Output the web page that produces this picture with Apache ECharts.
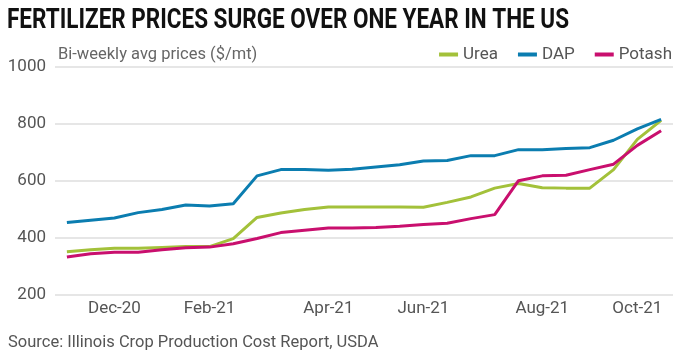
<!DOCTYPE html>
<html>
<head>
<meta charset="utf-8">
<script src="https://cdn.jsdelivr.net/npm/echarts@6/dist/echarts.min.js"></script>
<style>
html,body{margin:0;padding:0;background:#fff;}
#chart{width:680px;height:356px;}
</style>
</head>
<body>
<div id="chart"></div>
<script>
// Bi-weekly periods (Nov 2020 - Oct 2021)
const periods = ['2020-11-12','2020-11-26','2020-12-10','2020-12-24','2021-01-07','2021-01-21',
  '2021-02-04','2021-02-18','2021-03-04','2021-03-18','2021-04-01','2021-04-15','2021-04-29',
  '2021-05-13','2021-05-27','2021-06-10','2021-06-24','2021-07-08','2021-07-22','2021-08-05',
  '2021-08-19','2021-09-02','2021-09-16','2021-09-30','2021-10-14','2021-10-28'];
const tickIndex = [2, 6, 11, 15, 20, 24];
const tickLabels = ['Dec-20', 'Feb-21', 'Apr-21', 'Jun-21', 'Aug-21', 'Oct-21'];

const urea   = [352, 359, 364, 364, 367, 370, 370, 398, 472, 488, 500, 509, 509, 509, 509, 508,
                525, 544, 575, 591, 576, 575, 575, 640, 746, 813];
const dap    = [454, 462, 470, 489, 500, 516, 512, 520, 618, 640, 640, 638, 641, 649, 657, 670,
                672, 689, 689, 710, 710, 714, 717, 743, 783, 816];
const potash = [333, 345, 350, 350, 359, 366, 368, 380, 398, 419, 427, 435, 435, 437, 441, 447,
                452, 468, 482, 601, 618, 620, 640, 659, 725, 776];

const yTicks = {min: 200, max: 1000, interval: 200};

const titleText = 'FERTILIZER PRICES SURGE OVER ONE YEAR IN THE US';
const colors = {Urea: '#a3c13a', DAP: '#0b7db0', Potash: '#c90f6e'};
const FONT = 'Roboto, "Noto Sans", sans-serif';

// condense the title horizontally to match the narrow headline face
const TITLE_FONT = 'bold 28px Roboto, "Noto Sans", sans-serif';
const ctx = document.createElement('canvas').getContext('2d');
ctx.font = TITLE_FONT;
const titleW = ctx.measureText(titleText).width;
const titleScale = 562 / titleW;

const chart = echarts.init(document.getElementById('chart'), null, {renderer: 'canvas'});
function mk(name, data) {
  return {
    name, type: 'line', data, symbol: 'none', smooth: false,
    lineStyle: {width: 3, color: colors[name]}, itemStyle: {color: colors[name]}
  };
}
chart.setOption({
  animation: false,
  backgroundColor: '#fff',
  title: [
    {text: 'Bi-weekly avg prices ($/mt)', left: 58, top: 46, padding: 0,
     textStyle: {fontFamily: FONT, fontWeight: 'normal', fontSize: 16.5, color: '#666'}},
    {text: 'Source: Illinois Crop Production Cost Report, USDA', left: 8, top: 334, padding: 0,
     textStyle: {fontFamily: FONT, fontWeight: 'normal', fontSize: 16.5, color: '#555'}}
  ],
  graphic: [{
    type: 'text', left: 7, top: 7, scaleX: titleScale, originX: 0,
    style: {text: titleText, font: TITLE_FONT, fill: '#111'}
  }],
  legend: {
    right: 8, top: 46, padding: 0, icon: 'rect', itemWidth: 19, itemHeight: 4, itemGap: 20,
    data: ['Urea', 'DAP', 'Potash'],
    textStyle: {fontFamily: FONT, fontSize: 17, color: '#555'}
  },
  grid: {left: 55, right: 7, top: 67, bottom: 61, containLabel: false},
  xAxis: {
    type: 'category', data: periods, boundaryGap: true,
    axisLine: {show: false}, axisTick: {show: false},
    axisLabel: {
      interval: (i) => tickIndex.indexOf(i) >= 0,
      formatter: (v, i) => { const k = tickIndex.indexOf(i); return k >= 0 ? tickLabels[k] : ''; },
      fontFamily: FONT, fontSize: 17, color: '#555', margin: 5
    }
  },
  yAxis: {
    type: 'value', min: yTicks.min, max: yTicks.max, interval: yTicks.interval,
    axisLine: {show: false}, axisTick: {show: false},
    axisLabel: {fontFamily: FONT, fontSize: 17, color: '#555', margin: 9, formatter: (v) => String(v)},
    splitLine: {lineStyle: {color: '#e6e6e6', width: 2}}
  },
  series: [mk('Urea', urea), mk('DAP', dap), mk('Potash', potash)]
});
</script>
</body>
</html>
